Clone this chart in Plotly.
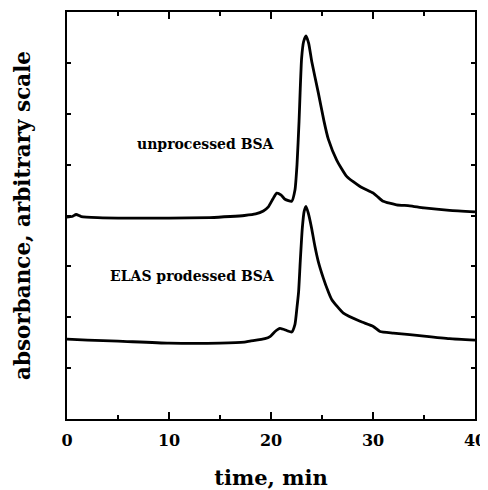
import plotly.graph_objects as go

# Upper trace: unprocessed BSA
t_unproc = [0, 0.5, 0.9, 1.4, 3, 6, 10, 14, 16, 17.4, 18.5, 19.25, 19.74, 20.2, 20.56, 21.0, 21.37,
            22.03, 22.35, 22.55, 22.75, 22.87, 23.0, 23.2, 23.43, 23.7, 24.0, 24.63, 25.2,
            25.62, 26.44, 27.42, 28.73, 30.03, 30.5, 31.0, 32.3, 33.6, 35, 37.5, 40]
a_unproc = [3.97, 3.98, 4.02, 3.98, 3.96, 3.95, 3.95, 3.96, 3.98, 4.0, 4.03, 4.09, 4.17, 4.33, 4.44, 4.40, 4.32,
            4.28, 4.5, 5.0, 5.85, 6.5, 7.09, 7.42, 7.53, 7.38, 7.02, 6.42, 5.85,
            5.5, 5.09, 4.77, 4.57, 4.44, 4.36, 4.28, 4.21, 4.19, 4.15, 4.10, 4.07]

# Lower trace: ELAS processed BSA
t_elas = [0, 2, 5, 10, 15, 17.4, 17.94, 19.4, 19.9, 20.4, 20.88, 21.54, 22.03, 22.35, 22.55, 22.71, 22.87,
          23.07, 23.25, 23.43, 23.65, 23.98, 24.3, 24.63, 25.13, 25.6, 25.95, 27.1, 28.73, 30.03, 30.69,
          32.0, 33.6, 35, 37.5, 40]
a_elas = [1.57, 1.55, 1.53, 1.49, 1.49, 1.51, 1.53, 1.58, 1.62, 1.72, 1.78, 1.74, 1.71, 1.86, 2.2, 2.51, 3.10,
          3.75, 4.08, 4.18, 4.05, 3.75, 3.4, 3.10, 2.77, 2.51, 2.35, 2.08, 1.92, 1.82, 1.72,
          1.69, 1.66, 1.63, 1.58, 1.55]

label_text = ["unprocessed BSA", "ELAS prodessed BSA"]
label_t = [20.6, 20.6]
label_a = [5.41, 2.82]

x_ticks = [0, 10, 20, 30, 40]

FONT = "DejaVu Serif"

fig = go.Figure()
for t, a in [(t_unproc, a_unproc), (t_elas, a_elas)]:
    fig.add_trace(go.Scatter(x=t, y=a, mode="lines",
                             line=dict(color="black", width=2.8, shape="spline", smoothing=0.5),
                             showlegend=False, hoverinfo="skip"))

for txt, tx, ay in zip(label_text, label_t, label_a):
    fig.add_annotation(x=tx, y=ay, text="<b>" + txt + "</b>", showarrow=False,
                       xanchor="right", yanchor="middle",
                       font=dict(family=FONT, size=14, color="black"))

# the page body adds an 8 px offset, margins compensate for it
fig.update_layout(
    width=488, height=490,
    margin=dict(l=59, r=21, t=4, b=78.5),
    paper_bgcolor="white", plot_bgcolor="white",
    font=dict(family=FONT, color="black"),
    xaxis=dict(range=[0, 40], tickvals=x_ticks, ticktext=[f"<b>{v}</b>" for v in x_ticks],
               ticks="inside", ticklen=7, tickwidth=1.5, tickcolor="black",
               minor=dict(dtick=5, ticks="inside", ticklen=4, tickwidth=1.5, tickcolor="black"),
               showline=True, linecolor="black", linewidth=2, mirror="ticks",
               showgrid=False, zeroline=False, automargin=False,
               ticklabelstandoff=6,
               tickfont=dict(family=FONT, size=16, color="black"),
               title=dict(text="<b>time, min</b>", font=dict(family=FONT, size=21, color="black"),
                          standoff=21)),
    yaxis=dict(range=[0, 8], dtick=1, showticklabels=False,
               ticks="inside", ticklen=4, tickwidth=1.5, tickcolor="black",
               showline=True, linecolor="black", linewidth=2, mirror="ticks",
               showgrid=False, zeroline=False, automargin=False,
               title=dict(text="<b>absorbance, arbitrary scale</b>",
                          font=dict(family=FONT, size=21.5, color="black"), standoff=28)),
)

fig.write_html("out.html")
